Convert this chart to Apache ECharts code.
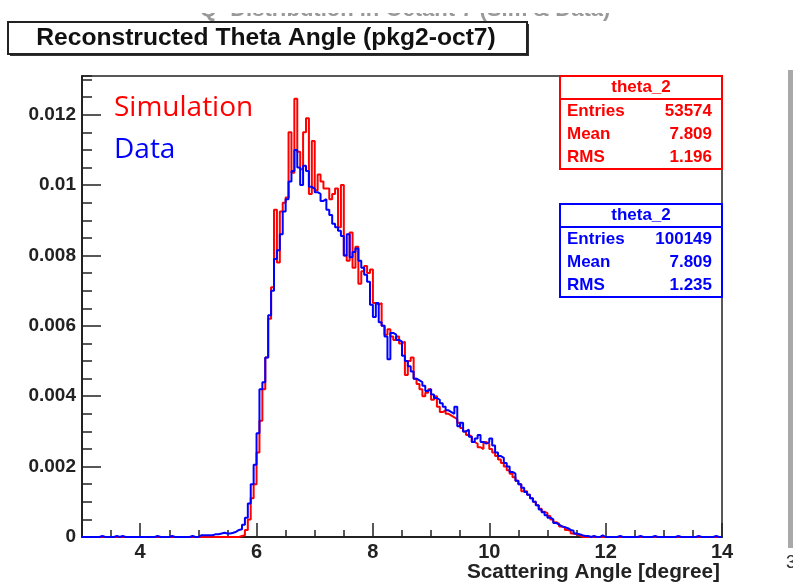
<!DOCTYPE html>
<html><head><meta charset="utf-8">
<script src="https://cdn.jsdelivr.net/npm/echarts@6/dist/echarts.min.js"></script>
<style>html,body{margin:0;padding:0;background:#fff}#c{width:793px;height:582px}</style>
</head><body><div id="c"></div>
<script>
// Histogram binning (degrees)
const binLow = 3.0, binHigh = 14.0, binWidth = 0.05;
const coreStart = 5.50; // first bin of the value arrays below

// Simulation (red) bin contents from 5.50 deg, step 0.05
const simValues = [
  0,0,0,0,0.00003,0.00005,0.00020,0.00050,0.00110,0.00150,
  0.00240,0.00330,0.00420,0.00510,0.00620,0.00710,0.00930,0.00780,0.00925,0.00950,
  0.00965,0.01150,0.01035,0.01245,0.01095,0.01045,0.01150,0.01190,0.00975,0.01125,
  0.00985,0.01030,0.01010,0.00990,0.00990,0.00960,0.00975,0.00990,0.00880,0.01000,
  0.00800,0.00785,0.00865,0.00765,0.00825,0.00720,0.00755,0.00770,0.00750,0.00760,
  0.00665,0.00660,0.00665,0.00600,0.00575,0.00590,0.00570,0.00560,0.00570,0.00550,
  0.00555,0.00460,0.00500,0.00510,0.00450,0.00435,0.00420,0.00400,0.00410,0.00420,
  0.00390,0.00400,0.00370,0.00355,0.00360,0.00350,0.00345,0.00340,0.00335,0.00325,
  0.00310,0.00300,0.00290,0.00285,0.00270,0.00265,0.00255,0.00250,0.00270,0.00265,
  0.00250,0.00240,0.00230,0.00220,0.00210,0.00200,0.00190,0.00180,0.00170,0.00160,
  0.00150,0.00130,0.00130,0.00120,0.00110,0.00100,0.00090,0.00080,0.00072,0.00068,
  0.00060,0.00050,0.00042,0.00038,0.00030,0.00028,0.00020,0.00018,0.00010,0.00008,
  0.00005,0,0
];

// Data (blue) bin contents from 5.50 deg, step 0.05
const dataValues = [
  0.00010,0.00012,0.00015,0.00020,0.00022,0.00035,0.00055,0.00095,0.00150,0.00205,
  0.00295,0.00420,0.00440,0.00510,0.00630,0.00700,0.00790,0.00815,0.00860,0.00925,
  0.00960,0.01010,0.01040,0.01100,0.01050,0.01000,0.01055,0.01040,0.00995,0.00990,
  0.00980,0.00975,0.00955,0.00960,0.00930,0.00915,0.00890,0.00880,0.00870,0.00855,
  0.00800,0.00860,0.00795,0.00810,0.00820,0.00785,0.00765,0.00745,0.00725,0.00660,
  0.00625,0.00665,0.00610,0.00600,0.00570,0.00505,0.00580,0.00575,0.00560,0.00555,
  0.00515,0.00500,0.00485,0.00470,0.00450,0.00445,0.00440,0.00430,0.00415,0.00420,
  0.00405,0.00395,0.00390,0.00380,0.00370,0.00360,0.00355,0.00350,0.00370,0.00315,
  0.00325,0.00300,0.00305,0.00285,0.00270,0.00280,0.00290,0.00270,0.00265,0.00270,
  0.00280,0.00260,0.00240,0.00230,0.00225,0.00210,0.00200,0.00185,0.00180,0.00160,
  0.00150,0.00140,0.00128,0.00120,0.00110,0.00100,0.00090,0.00078,0.00070,0.00062,
  0.00055,0.00050,0.00040,0.00035,0.00030,0.00028,0.00025,0.00020,0.00018,0.00010,
  0.00008,0.00005,0.00003
];

// Sparse data (blue) entries outside the main peak: [bin start, value]
const dataTailBins = [
  [3.30,0.00003],[3.55,0.00003],[3.65,0.00003],[4.25,0.00003],[4.50,0.00003],[4.85,0.00003],
  [5.00,0.00005],[5.05,0.00005],[5.10,0.00005],[5.15,0.00005],[5.20,0.00005],[5.25,0.00008],
  [5.30,0.00008],[5.35,0.00010],[5.40,0.00012],[5.45,0.00010],
  [11.65,0.00003],[11.75,0.00003],[11.90,0.00005],[12.20,0.00003],[12.55,0.00003],
  [12.80,0.00003],[13.20,0.00003],[13.55,0.00003],[13.85,0.00003]
];

const xMajorTicks = [4, 6, 8, 10, 12, 14];
const yMajorTicks = [0, 0.002, 0.004, 0.006, 0.008, 0.01, 0.012];
const xAxisTitle = 'Scattering Angle [degree]';

const simStats  = ['theta_2', '53574', '7.809', '1.196'];
const dataStats = ['theta_2', '100149', '7.809', '1.235'];
const statLabels = ['Entries', 'Mean', 'RMS'];

function buildHist(core, tails) {
  const n = Math.round((binHigh - binLow) / binWidth);
  const v = new Array(n).fill(0);
  const off = Math.round((coreStart - binLow) / binWidth);
  core.forEach((y, i) => { v[off + i] = y; });
  tails.forEach(([x, y]) => { v[Math.round((x - binLow) / binWidth)] = y; });
  const pts = v.map((y, i) => [+(binLow + i * binWidth).toFixed(2), y]);
  pts.push([binHigh, v[n - 1]]);
  return pts;
}

const AX = '#222';
const FONT = '"Liberation Sans", Arial, sans-serif';
const fmt = v => String(parseFloat(Number(v).toFixed(4)));

function statBox(top, color, vals) {
  const x = 560, w = 162, h = 93;
  const els = [
    {type:'rect', z:100, shape:{x:x, y:top, width:w, height:h}, style:{fill:'#fff', stroke:color, lineWidth:2}},
    {type:'line', z:101, shape:{x1:x, y1:top+23, x2:x+w, y2:top+23}, style:{stroke:color, lineWidth:2}},
    {type:'text', z:101, x:x+w/2, y:top+11.5, style:{text:vals[0], fill:color, font:'bold 17px ' + FONT, textAlign:'center', textVerticalAlign:'middle'}}
  ];
  statLabels.forEach((lab, i) => {
    const yy = top + 35.5 + i * 23;
    els.push({type:'text', z:101, x:x+7, y:yy, style:{text:lab, fill:color, font:'bold 17px ' + FONT, textAlign:'left', textVerticalAlign:'middle'}});
    els.push({type:'text', z:101, x:x+w-10, y:yy, style:{text:vals[i+1], fill:color, font:'bold 17px ' + FONT, textAlign:'right', textVerticalAlign:'middle'}});
  });
  return els;
}

const chart = echarts.init(document.getElementById('c'), null, {renderer:'canvas'});
chart.setOption({
  animation: false,
  backgroundColor: '#fff',
  grid: {left:82, right:71, top:76, bottom:45, containLabel:false, outerBoundsMode:'none',
         show:true, borderColor:AX, borderWidth:1.5, backgroundColor:'transparent'},
  xAxis: [
    {type:'value', min:3, max:14, interval:0.5,
     axisLine:{show:true, onZero:false, lineStyle:{color:AX, width:2}},
     axisTick:{show:true, inside:true, length:7, lineStyle:{color:AX, width:1.5}},
     axisLabel:{customValues:xMajorTicks, formatter:fmt, fontSize:20, fontWeight:'bold', fontFamily:FONT, color:AX, margin:5},
     splitLine:{show:false}},
    {type:'value', min:3, max:14, position:'bottom',
     axisLine:{show:false, onZero:false},
     axisTick:{show:true, inside:true, length:14, customValues:xMajorTicks, lineStyle:{color:AX, width:1.5}},
     axisLabel:{show:false}, splitLine:{show:false}}
  ],
  yAxis: [
    {type:'value', min:0, max:0.0131, interval:0.0005,
     axisLine:{show:true, onZero:false, lineStyle:{color:AX, width:2}},
     axisTick:{show:true, inside:true, length:10, lineStyle:{color:AX, width:1.5}},
     axisLabel:{customValues:yMajorTicks, formatter:fmt, fontSize:19, fontWeight:'bold', fontFamily:FONT, color:AX, margin:6},
     splitLine:{show:false}},
    {type:'value', min:0, max:0.0131, position:'left',
     axisLine:{show:false, onZero:false},
     axisTick:{show:true, inside:true, length:19, customValues:yMajorTicks, lineStyle:{color:AX, width:1.5}},
     axisLabel:{show:false}, splitLine:{show:false}}
  ],
  series: [
    {name:'Simulation', type:'line', step:'end', xAxisIndex:0, yAxisIndex:0, symbol:'none', z:3,
     lineStyle:{color:'#ff0000', width:2}, data: buildHist(simValues, [])},
    {name:'Data', type:'line', step:'end', xAxisIndex:0, yAxisIndex:0, symbol:'none', z:4,
     lineStyle:{color:'#0000ff', width:2}, data: buildHist(dataValues, dataTailBins)}
  ],
  graphic: [].concat(
    [
      {type:'text', z:90, x:405, y:21, style:{text:'Q² Distribution in Octant 7 (Sim & Data)', fill:'#999', font:'bold 22px ' + FONT, textAlign:'center', textVerticalAlign:'bottom'}},
      {type:'rect', z:91, shape:{x:0, y:0, width:793, height:13}, style:{fill:'#fff'}},
      {type:'rect', z:92, shape:{x:10, y:24, width:519, height:32}, style:{fill:'#333'}},
      {type:'rect', z:93, shape:{x:8, y:22, width:519, height:32}, style:{fill:'#fff', stroke:'#222', lineWidth:2}},
      {type:'text', z:94, x:266, y:38.5, scaleX:1.07, style:{text:'Reconstructed Theta Angle (pkg2-oct7)', fill:'#111', font:'bold 23px ' + FONT, textAlign:'center', textVerticalAlign:'middle'}},
      {type:'text', z:95, x:720, y:572, scaleX:1.04, style:{text:xAxisTitle, fill:AX, font:'bold 20px ' + FONT, textAlign:'right', textVerticalAlign:'middle'}},
      {type:'text', z:95, x:114, y:108, style:{text:'Simulation', fill:'#ff0000', font:'28px "Open Sans", "Noto Sans", sans-serif', textAlign:'left', textVerticalAlign:'middle'}},
      {type:'text', z:95, x:114, y:150, style:{text:'Data', fill:'#0000ff', font:'28px "Open Sans", "Noto Sans", sans-serif', textAlign:'left', textVerticalAlign:'middle'}},
      {type:'rect', z:95, shape:{x:788, y:70, width:5, height:478}, style:{fill:'#a9a9a9'}},
      {type:'text', z:95, x:786, y:563, style:{text:'3', fill:'#333', font:'18px ' + FONT, textAlign:'left', textVerticalAlign:'middle'}}
    ],
    statBox(76, '#ff0000', simStats),
    statBox(204, '#0000ff', dataStats)
  )
});
</script>
</body></html>
